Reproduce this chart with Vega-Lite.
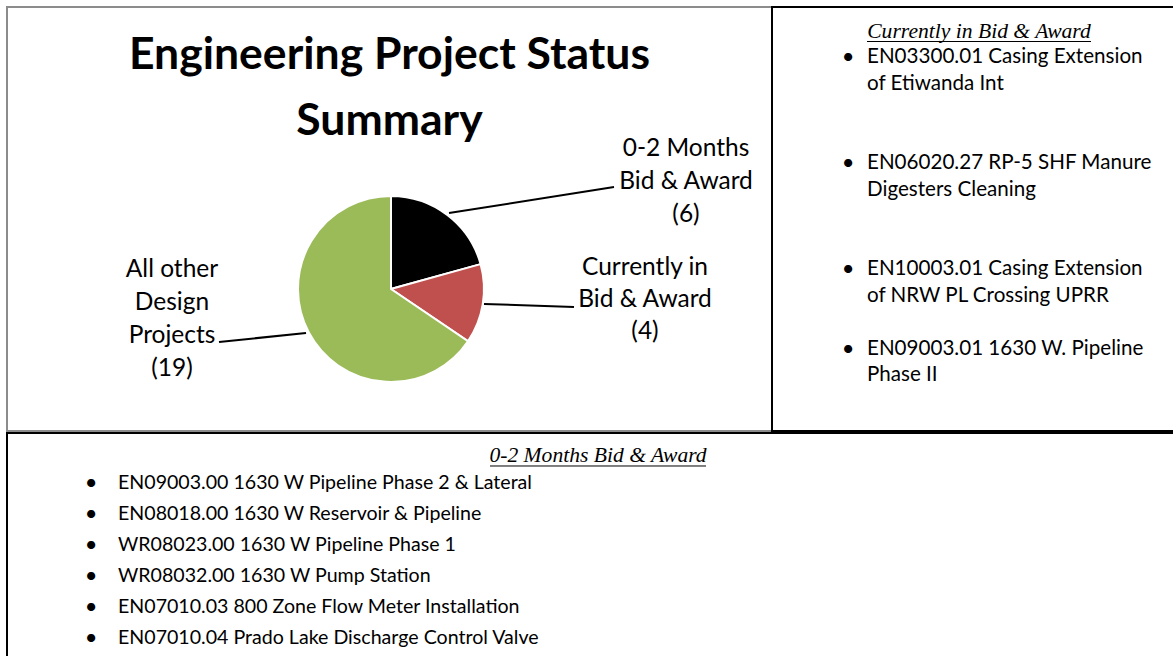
{
  "$schema": "https://vega.github.io/schema/vega-lite/v6.json",
  "background": "white",
  "padding": {"left": 6, "top": 6, "right": 0, "bottom": 0},
  "spacing": 0,
  "config": {
    "concat": {"spacing": 0},
    "view": {"stroke": "#000000", "strokeWidth": 2},
    "text": {"font": "Lato", "color": "#000000"}
  },
  "vconcat": [
    {
      "spacing": 0,
      "bounds": "flush",
      "hconcat": [
        {
          "width": 765,
          "height": 424,
          "view": {"stroke": "#8c8c8c", "strokeWidth": 2},
          "title": {
            "text": ["Engineering Project Status", "Summary"],
            "font": "Lato",
            "fontSize": 44.5,
            "fontWeight": "bold",
            "color": "#000000",
            "lineHeight": 66,
            "anchor": "middle",
            "offset": -137
          },
          "data": {
            "values": [
              {"status": "0-2 Months Bid & Award", "projects": 6, "seq": 1, "label": "0-2 Months\nBid & Award\n(6)"},
              {"status": "Currently in Bid & Award", "projects": 4, "seq": 2, "label": "Currently in\nBid & Award\n(4)"},
              {"status": "All other Design Projects", "projects": 19, "seq": 3, "label": "All other\nDesign\nProjects\n(19)"}
            ]
          },
          "layer": [
            {
              "mark": {"type": "arc", "radius": 93, "stroke": "#ffffff", "strokeWidth": 2},
              "encoding": {
                "x": {"datum": 384, "type": "quantitative", "scale": {"domain": [0, 765], "nice": false, "zero": false}, "axis": null},
                "y": {"datum": 282, "type": "quantitative", "scale": {"domain": [0, 424], "nice": false, "zero": false, "reverse": true}, "axis": null},
                "theta": {"field": "projects", "type": "quantitative", "stack": true},
                "order": {"field": "seq", "type": "quantitative"},
                "color": {
                  "field": "status",
                  "type": "nominal",
                  "scale": {"domain": ["0-2 Months Bid & Award", "Currently in Bid & Award", "All other Design Projects"], "range": ["#000000", "#C0504D", "#9BBB59"]},
                  "legend": null
                }
              }
            },
            {
              "transform": [{"filter": "datum.seq === 1"}],
              "mark": {"type": "rule", "color": "#000000", "strokeWidth": 2},
              "encoding": {"x": {"datum": 442}, "y": {"datum": 206}, "x2": {"datum": 607}, "y2": {"datum": 180}}
            },
            {
              "transform": [{"filter": "datum.seq === 2"}],
              "mark": {"type": "rule", "color": "#000000", "strokeWidth": 2},
              "encoding": {"x": {"datum": 477}, "y": {"datum": 297}, "x2": {"datum": 567}, "y2": {"datum": 300}}
            },
            {
              "transform": [{"filter": "datum.seq === 3"}],
              "mark": {"type": "rule", "color": "#000000", "strokeWidth": 2},
              "encoding": {"x": {"datum": 212}, "y": {"datum": 335}, "x2": {"datum": 299}, "y2": {"datum": 326}}
            },
            {
              "transform": [{"filter": "datum.seq === 1"}],
              "mark": {"type": "text", "fontSize": 24.5, "lineHeight": 33, "lineBreak": "\n", "align": "center", "baseline": "middle"},
              "encoding": {"x": {"datum": 679}, "y": {"datum": 142}, "text": {"field": "label"}}
            },
            {
              "transform": [{"filter": "datum.seq === 2"}],
              "mark": {"type": "text", "fontSize": 24.5, "lineHeight": 32, "lineBreak": "\n", "align": "center", "baseline": "middle"},
              "encoding": {"x": {"datum": 638}, "y": {"datum": 260.7}, "text": {"field": "label"}}
            },
            {
              "transform": [{"filter": "datum.seq === 3"}],
              "mark": {"type": "text", "fontSize": 24.5, "lineHeight": 33, "lineBreak": "\n", "align": "center", "baseline": "middle"},
              "encoding": {"x": {"datum": 165}, "y": {"datum": 263}, "text": {"field": "label"}}
            }
          ]
        },
        {
          "width": 404,
          "height": 424,
          "data": {
            "values": [
              {"line": 0, "type": "heading", "text": "Currently in Bid & Award"},
              {"line": 1, "type": "item", "text": "EN03300.01 Casing Extension"},
              {"line": 2, "type": "continued", "text": "of Etiwanda Int"},
              {"line": 3, "type": "blank", "text": ""},
              {"line": 4, "type": "blank", "text": ""},
              {"line": 5, "type": "item", "text": "EN06020.27 RP-5 SHF Manure"},
              {"line": 6, "type": "continued", "text": "Digesters Cleaning"},
              {"line": 7, "type": "blank", "text": ""},
              {"line": 8, "type": "blank", "text": ""},
              {"line": 9, "type": "item", "text": "EN10003.01 Casing Extension"},
              {"line": 10, "type": "continued", "text": "of NRW PL Crossing UPRR"},
              {"line": 11, "type": "blank", "text": ""},
              {"line": 12, "type": "item", "text": "EN09003.01 1630 W. Pipeline"},
              {"line": 13, "type": "continued", "text": "Phase II"},
              {"line": 14, "type": "blank", "text": ""}
            ]
          },
          "encoding": {
            "y": {"field": "line", "type": "ordinal", "scale": {"type": "point", "padding": 1.033}, "axis": null}
          },
          "layer": [
            {
              "transform": [{"filter": "datum.type === 'heading'"}],
              "mark": {"type": "text", "font": "Liberation Serif", "fontStyle": "italic", "fontSize": 21.6, "dx": 5, "dy": -2},
              "encoding": {"text": {"field": "text"}}
            },
            {
              "transform": [{"filter": "datum.type === 'heading'"}],
              "mark": {"type": "rule", "color": "#000000", "strokeWidth": 1, "yOffset": 8},
              "encoding": {"x": {"value": 95}, "x2": {"value": 319}}
            },
            {
              "transform": [{"filter": "datum.type === 'item'"}],
              "mark": {"type": "text", "fontSize": 22, "dx": -126, "dy": -3},
              "encoding": {"text": {"value": "•"}}
            },
            {
              "transform": [{"filter": "datum.type !== 'heading'"}],
              "mark": {"type": "text", "fontSize": 20.6, "align": "left", "dx": -107, "dy": -3},
              "encoding": {"text": {"field": "text"}}
            }
          ]
        }
      ]
    },
    {
      "width": 1171,
      "height": 228,
      "data": {
        "values": [
          {"line": 0, "type": "heading", "text": "0-2 Months Bid & Award"},
          {"line": 1, "type": "item", "text": "EN09003.00 1630 W Pipeline Phase 2 & Lateral"},
          {"line": 2, "type": "item", "text": "EN08018.00  1630 W Reservoir & Pipeline"},
          {"line": 3, "type": "item", "text": "WR08023.00 1630 W Pipeline Phase 1"},
          {"line": 4, "type": "item", "text": "WR08032.00 1630 W Pump Station"},
          {"line": 5, "type": "item", "text": "EN07010.03 800 Zone Flow Meter Installation"},
          {"line": 6, "type": "item", "text": "EN07010.04 Prado Lake Discharge Control Valve"}
        ]
      },
      "encoding": {
        "y": {"field": "line", "type": "ordinal", "scale": {"type": "point", "padding": 0.677}, "axis": null}
      },
      "layer": [
        {
          "transform": [{"filter": "datum.type === 'heading'"}],
          "mark": {"type": "text", "font": "Liberation Serif", "fontStyle": "italic", "fontSize": 21.6, "dx": 5.5, "dy": 2},
          "encoding": {"text": {"field": "text"}}
        },
        {
          "transform": [{"filter": "datum.type === 'heading'"}],
          "mark": {"type": "rule", "color": "#000000", "strokeWidth": 1, "yOffset": 12},
          "encoding": {"x": {"value": 483}, "x2": {"value": 699}}
        },
        {
          "transform": [{"filter": "datum.type === 'item'"}],
          "mark": {"type": "text", "fontSize": 22, "dx": -501.5, "dy": -2},
          "encoding": {"text": {"value": "•"}}
        },
        {
          "transform": [{"filter": "datum.type !== 'heading'"}],
          "mark": {"type": "text", "fontSize": 19.6, "align": "left", "dx": -474.5, "dy": -2},
          "encoding": {"text": {"field": "text"}}
        }
      ]
    }
  ]
}
